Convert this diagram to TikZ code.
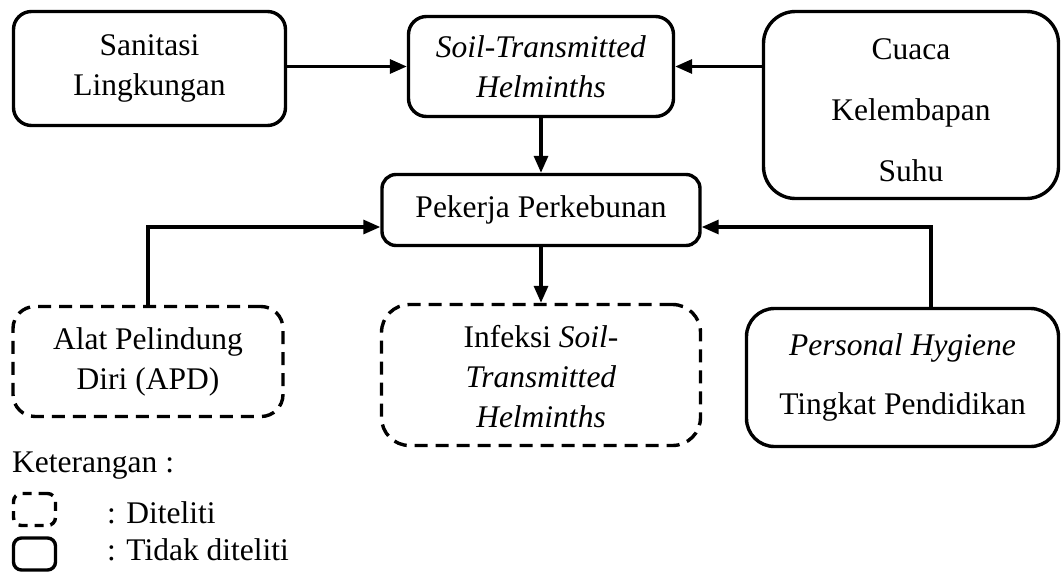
\documentclass[tikz,border=0pt]{standalone}
\usepackage{fontspec}
\setmainfont{Liberation Serif}
\usetikzlibrary{arrows.meta}

\begin{document}
\begin{tikzpicture}[x=1pt,y=-1pt,
	box/.style={draw,line width=3.4pt,rounded corners=18pt,align=center,inner sep=0pt,font=\fontsize{31.5}{40}\selectfont},
	dbox/.style={box,dash pattern=on 13pt off 8pt},
	arr/.style={line width=3.2pt,-{Triangle[length=17pt,width=14pt]}},
	txt/.style={anchor=base west,inner sep=0pt,font=\fontsize{31.5}{40}\selectfont}]
	\useasboundingbox (0,0) rectangle (1062,573);
	
	\node[box,minimum width=272pt,minimum height=114pt] (san) at (149.5,68.5) {Sanitasi\\Lingkungan};
	\node[box,minimum width=265pt,minimum height=100pt] (sth) at (541,66.5) {\textit{Soil-Transmitted}\\\textit{Helminths}};
	\node[box,minimum width=295pt,minimum height=187pt,rounded corners=32pt] (cuaca) at (911,105) {\rule{0pt}{32pt}Cuaca\\[21pt]Kelembapan\\[21pt]Suhu};
	\node[box,minimum width=318pt,minimum height=71pt,rounded corners=14pt] (pek) at (541,210) {Pekerja Perkebunan};
	
	\node[dbox,minimum width=270pt,minimum height=110pt,rounded corners=22pt] (apd) at (148,361.5) {Alat Pelindung\\Diri (APD)};
	\node[dbox,minimum width=319pt,minimum height=141pt,rounded corners=28pt] (inf) at (541,375) {\rule{0pt}{26pt}Infeksi \textit{Soil-}\\\textit{Transmitted}\\\textit{Helminths}};
	\node[box,minimum width=312pt,minimum height=138pt,rounded corners=28pt] (pers) at (902.5,377.5) {\textit{Personal Hygiene}\\[19pt]Tingkat Pendidikan};
	
	\draw[arr] (sth.west -| san.east) -- (sth.west);
	\draw[arr] (sth.east -| cuaca.west) -- (sth.east);
	\draw[arr] (sth) -- (pek);
	\draw[arr] (pek) -- (inf);
	\draw[arr] (apd.north) |- ([yshift=-17pt]pek.west);
	\draw[arr] ([xshift=28.5pt]pers.north) |- ([yshift=-17pt]pek.east);
	
	\node[txt] (ket) at (12,472) {Keterangan :};
	\node[dbox,minimum width=42pt,minimum height=32pt,rounded corners=8pt,dash pattern=on 9pt off 7pt] (lgd) at (34.5,509.5) {};
	\node[box,minimum width=42pt,minimum height=32pt,rounded corners=8pt] (lgs) at (34.5,554) {};
	\node[txt] (lgdt) at (107,523) {: Diteliti};
	\node[txt] (lgst) at (107,560) {: Tidak diteliti};
\end{tikzpicture}
\end{document}
